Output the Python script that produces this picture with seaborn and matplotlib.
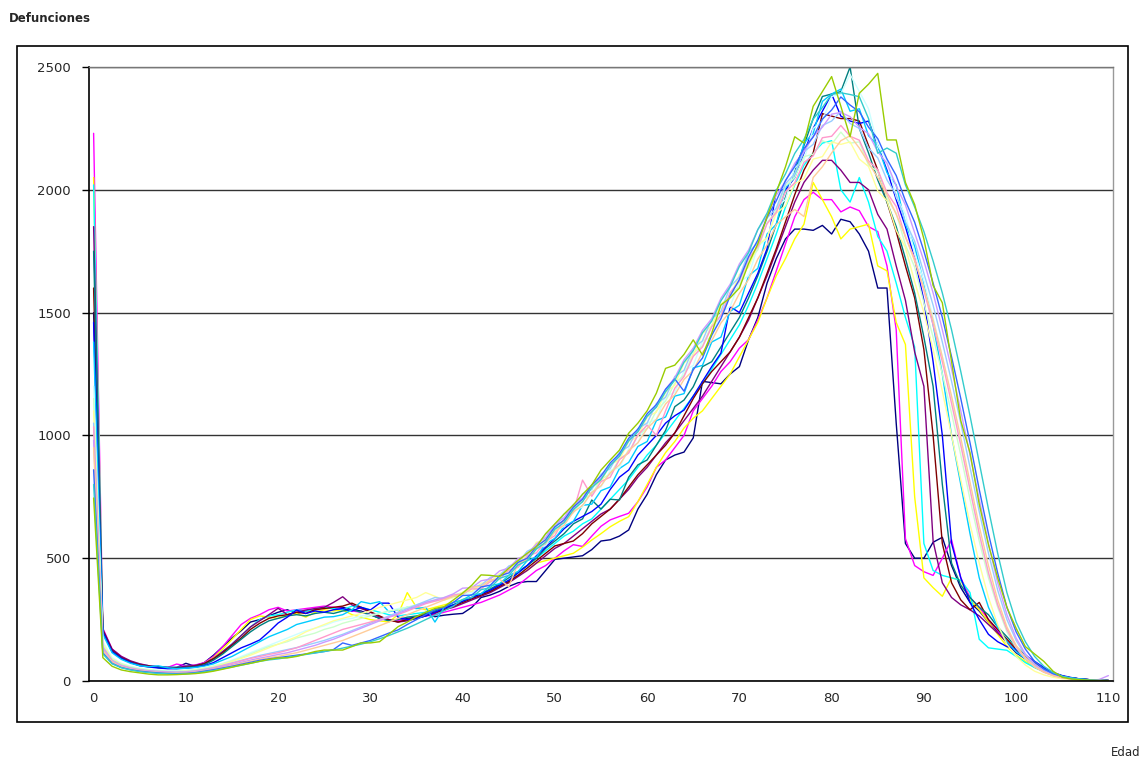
import numpy as np
import pandas as pd
import matplotlib
matplotlib.use("Agg")
import matplotlib.pyplot as plt
import seaborn as sns
from matplotlib.patches import Rectangle

# Ages on the x axis (category axis 0..110)
ages = list(range(111))

# Deaths by age, one list per series
navy = [1500, 210, 120, 95, 78, 66, 60, 55, 52, 55,
        72, 60, 75, 105, 140, 175, 205, 240, 250, 265,
        280, 290, 275, 285, 290, 300, 295, 300, 290, 285,
        270, 255, 250, 245, 255, 260, 270, 262, 268, 272,
        275, 300, 340, 350, 365, 385, 400, 405, 405, 450,
        495, 500, 505, 510, 535, 570, 575, 590, 615, 700,
        760, 840, 900, 920, 932, 990, 1220, 1215, 1210, 1250,
        1280, 1390, 1480, 1620, 1720, 1800, 1840, 1840, 1835, 1855,
        1820, 1880, 1870, 1820, 1750, 1600, 1600, 1050, 560, 500,
        500, 565, 585, 470, 380, 320, 285, 240, 200, 155,
        115, 90, 60, 40, 28, 18, 12, 8, 5, 3, 2]
magenta = [2230, 215, 130, 100, 80, 68, 62, 58, 55, 69,
           62, 65, 75, 100, 140, 185, 230, 255, 270, 290,
           300, 285, 290, 295, 300, 305, 300, 295, 285, 280,
           270, 260, 250, 245, 250, 255, 265, 270, 280, 290,
           300, 310, 320, 335, 350, 370, 390, 420, 450, 470,
           500, 530, 555, 548, 590, 630, 656, 670, 683, 730,
           790, 870, 900, 950, 1000, 1100, 1150, 1200, 1260, 1300,
           1355, 1390, 1470, 1560, 1670, 1780, 1890, 1960, 1990, 1960,
           1960, 1910, 1930, 1915, 1850, 1830, 1690, 1430, 580, 470,
           445, 430, 500, 575, 420, 340, 300, 250, 205, 160,
           120, 95, 70, 48, 30, 20, 12, 8, 5, 3, 2]
yellow = [2050, 200, 125, 95, 78, 66, 60, 55, 52, 52,
          58, 62, 72, 95, 130, 170, 210, 250, 265, 260,
          255, 270, 275, 260, 280, 290, 285, 290, 270, 260,
          250, 245, 240, 270, 360, 300, 290, 300, 310, 320,
          330, 340, 350, 365, 385, 400, 430, 450, 480, 490,
          500, 510, 520, 545, 574, 600, 628, 650, 669, 730,
          800, 870, 930, 975, 1030, 1070, 1100, 1150, 1200, 1250,
          1320, 1390, 1460, 1560, 1650, 1720, 1800, 1860, 2030, 1960,
          1890, 1800, 1840, 1850, 1860, 1690, 1670, 1460, 1370, 750,
          420, 380, 345, 420, 410, 330, 290, 240, 190, 140,
          105, 80, 55, 38, 25, 16, 10, 6, 4, 2, 1]
cyan = [2020, 205, 125, 95, 78, 68, 62, 58, 56, 56,
        60, 62, 70, 90, 120, 150, 185, 220, 250, 265,
        270, 280, 290, 285, 290, 300, 295, 290, 305, 300,
        290, 280, 270, 265, 270, 275, 280, 290, 300, 310,
        325, 340, 355, 370, 390, 410, 440, 470, 500, 530,
        560, 590, 610, 640, 660, 700, 740, 780, 820, 870,
        920, 960, 1010, 1060, 1110, 1160, 1210, 1270, 1330, 1390,
        1450, 1530, 1620, 1720, 1820, 1930, 2020, 2100, 2150, 2190,
        2200, 2000, 1950, 2050, 1950, 1810, 1750, 1620, 1480, 1360,
        560, 450, 430, 420, 410, 360, 170, 135, 130, 125,
        100, 75, 55, 38, 25, 16, 10, 6, 4, 2, 1]
purple = [1850, 210, 130, 100, 82, 70, 62, 58, 56, 55,
          60, 64, 72, 92, 120, 150, 185, 220, 245, 270,
          296, 270, 280, 289, 295, 300, 320, 343, 310, 295,
          280, 260, 250, 240, 245, 255, 265, 275, 290, 300,
          315, 330, 345, 360, 380, 400, 425, 450, 480, 510,
          540, 560, 590, 620, 650, 680, 700, 740, 780, 830,
          870, 920, 970, 1010, 1060, 1110, 1160, 1220, 1280, 1340,
          1400, 1470, 1560, 1650, 1750, 1850, 1950, 2030, 2080, 2120,
          2120, 2080, 2030, 2030, 2000, 1900, 1840, 1690, 1550, 1340,
          1200, 570, 400, 340, 310, 290, 265, 230, 195, 160,
          125, 95, 65, 45, 30, 18, 12, 8, 5, 3, 2]
darkred = [1600, 205, 125, 95, 78, 66, 60, 56, 54, 52,
           56, 60, 70, 90, 115, 145, 175, 210, 235, 255,
           265, 270, 280, 275, 290, 295, 300, 305, 317, 300,
           282, 265, 248, 240, 250, 260, 270, 280, 290, 305,
           320, 335, 350, 365, 385, 405, 430, 460, 490, 520,
           550, 560, 570, 600, 640, 670, 700, 740, 790, 840,
           880, 920, 960, 1010, 1080, 1150, 1210, 1260, 1300, 1340,
           1400, 1480, 1560, 1660, 1760, 1870, 1980, 2080, 2150, 2310,
           2300, 2290, 2290, 2280, 2180, 2080, 1950, 1830, 1690, 1560,
           1350, 1000, 560, 400, 330, 290, 320, 250, 210, 170,
           130, 100, 75, 50, 32, 20, 12, 8, 5, 3, 2]
teal = [1750, 200, 120, 92, 75, 64, 58, 55, 52, 52,
        55, 58, 66, 85, 110, 140, 170, 200, 225, 245,
        255, 265, 270, 265, 275, 280, 275, 285, 290, 280,
        270, 255, 245, 250, 260, 265, 275, 285, 300, 310,
        325, 340, 355, 375, 395, 420, 445, 470, 500, 540,
        570, 600, 640, 660, 737, 700, 740, 737, 830, 880,
        900, 960, 1020, 1117, 1144, 1198, 1280, 1300, 1360, 1420,
        1480, 1560, 1650, 1750, 1860, 1970, 2080, 2180, 2290, 2380,
        2390, 2400, 2500, 2250, 2150, 2040, 1950, 1850, 1720, 1580,
        1400, 1200, 800, 480, 390, 340, 300, 270, 220, 180,
        140, 105, 75, 50, 33, 20, 12, 8, 5, 3, 2]
blue = [1460, 200, 120, 92, 75, 62, 57, 53, 50, 50,
        52, 56, 62, 75, 95, 115, 135, 150, 167, 200,
        236, 260, 289, 275, 285, 280, 290, 295, 285, 300,
        289, 317, 317, 260, 250, 255, 265, 280, 295, 310,
        325, 340, 355, 370, 390, 410, 440, 470, 510, 545,
        580, 620, 650, 670, 690, 720, 780, 830, 859, 920,
        960, 1000, 1050, 1080, 1103, 1160, 1220, 1280, 1335, 1524,
        1500, 1580, 1660, 1760, 2000, 2000, 2050, 2150, 2250, 2320,
        2390, 2300, 2280, 2270, 2280, 2180, 2080, 1960, 1850, 1720,
        1550, 1300, 1000, 560, 420, 320, 250, 190, 160, 140,
        130, 105, 80, 55, 35, 22, 14, 8, 5, 3, 2]
skyblue = [1380, 190, 115, 88, 72, 62, 58, 62, 54, 50,
           52, 55, 60, 70, 85, 100, 120, 140, 160, 180,
           195, 210, 230, 240, 250, 260, 262, 270, 290, 323,
           315, 323, 282, 290, 300, 295, 300, 240, 300, 320,
           330, 352, 355, 388, 396, 430, 445, 490, 505, 560,
           580, 630, 650, 715, 720, 775, 790, 865, 890, 955,
           975, 1060, 1075, 1160, 1170, 1275, 1285, 1380, 1400, 1505,
           1530, 1650, 1680, 1820, 1860, 2010, 2050, 2190, 2230, 2360,
           2390, 2410, 2320, 2330, 2220, 2180, 2070, 2020, 1860, 1770,
           1620, 1450, 1250, 1000, 800, 600, 420, 300, 220, 160,
           120, 90, 65, 45, 30, 18, 12, 8, 5, 3, 2]
lightturq = [1200, 160, 95, 72, 60, 52, 47, 44, 42, 42,
             45, 48, 55, 62, 72, 85, 100, 115, 130, 145,
             160, 175, 190, 205, 215, 225, 240, 250, 255, 265,
             270, 275, 285, 295, 300, 310, 320, 325, 330, 340,
             355, 360, 388, 390, 428, 432, 480, 492, 540, 552,
             612, 630, 695, 708, 772, 790, 858, 868, 945, 970,
             1050, 1065, 1160, 1175, 1262, 1285, 1385, 1400, 1500, 1525,
             1625, 1650, 1770, 1800, 1930, 1960, 2090, 2120, 2250, 2280,
             2380, 2390, 2470, 2400, 2330, 2180, 2120, 1970, 1900, 1740,
             1630, 1480, 1320, 1150, 970, 780, 600, 440, 310, 210,
             140, 95, 60, 38, 22, 14, 8, 5, 3, 2, 1]
lightgreen = [1150, 150, 90, 70, 58, 50, 45, 42, 40, 40,
              42, 45, 52, 60, 70, 82, 95, 110, 125, 140,
              150, 160, 175, 185, 195, 210, 220, 235, 245, 255,
              265, 275, 285, 290, 300, 310, 320, 330, 340, 350,
              360, 382, 385, 410, 420, 458, 470, 512, 535, 582,
              605, 660, 685, 738, 760, 822, 842, 905, 930, 1002,
              1028, 1100, 1140, 1212, 1245, 1335, 1365, 1450, 1490, 1575,
              1605, 1715, 1755, 1865, 1915, 2015, 2050, 2135, 2145, 2200,
              2185, 2235, 2190, 2195, 2100, 2075, 1965, 1905, 1775, 1685,
              1540, 1400, 1250, 1090, 920, 740, 570, 420, 300, 200,
              135, 90, 58, 36, 22, 13, 8, 5, 3, 2, 1]
lightyellow = [1100, 150, 90, 68, 56, 48, 44, 40, 38, 38,
               40, 44, 50, 58, 68, 80, 92, 105, 120, 135,
               150, 165, 180, 200, 215, 230, 245, 255, 265, 275,
               285, 300, 310, 320, 330, 340, 360, 345, 330, 340,
               362, 365, 398, 402, 438, 448, 490, 505, 565, 572,
               632, 650, 712, 730, 792, 810, 882, 900, 975, 995,
               1075, 1095, 1175, 1205, 1295, 1325, 1415, 1445, 1535, 1565,
               1655, 1685, 1775, 1805, 1905, 1935, 2025, 2045, 2125, 2135,
               2195, 2185, 2195, 2125, 2095, 1995, 1955, 1835, 1765, 1625,
               1500, 1350, 1180, 1000, 820, 640, 480, 340, 230, 150,
               100, 65, 40, 25, 15, 9, 6, 4, 3, 2, 1]
paleblue = [1050, 140, 85, 65, 54, 47, 42, 40, 38, 37,
            38, 42, 48, 55, 64, 74, 84, 94, 104, 112,
            120, 128, 136, 145, 155, 165, 178, 190, 205, 220,
            235, 250, 265, 280, 295, 310, 325, 340, 335, 345,
            352, 382, 390, 422, 430, 468, 482, 528, 548, 598,
            622, 680, 700, 762, 780, 842, 865, 932, 955, 1028,
            1050, 1130, 1155, 1240, 1265, 1355, 1385, 1475, 1505, 1605,
            1645, 1745, 1785, 1885, 1925, 2025, 2065, 2155, 2185, 2262,
            2280, 2320, 2270, 2250, 2170, 2130, 2040, 1980, 1870, 1790,
            1660, 1530, 1380, 1220, 1050, 870, 690, 520, 370, 250,
            165, 105, 65, 40, 24, 14, 9, 5, 3, 2, 1]
rose = [1035, 135, 82, 62, 52, 45, 40, 38, 36, 35,
        36, 40, 46, 53, 62, 72, 82, 92, 100, 108,
        115, 125, 135, 150, 165, 180, 195, 210, 220, 230,
        240, 250, 260, 270, 285, 300, 315, 325, 335, 350,
        355, 375, 375, 405, 415, 452, 462, 508, 522, 568,
        592, 660, 690, 818, 752, 812, 830, 902, 928, 1002,
        1042, 1000, 1100, 1192, 1240, 1322, 1360, 1442, 1488, 1582,
        1628, 1722, 1768, 1862, 1908, 1992, 2028, 2112, 2138, 2212,
        2218, 2262, 2218, 2202, 2118, 2082, 1988, 1932, 1808, 1722,
        1590, 1450, 1300, 1130, 960, 780, 600, 440, 310, 210,
        140, 92, 58, 36, 22, 13, 8, 5, 3, 2, 1]
lavender = [980, 130, 80, 60, 50, 44, 40, 37, 35, 34,
            35, 38, 44, 50, 58, 67, 76, 85, 93, 100,
            108, 115, 125, 135, 145, 158, 170, 185, 200, 215,
            230, 245, 260, 275, 290, 305, 320, 330, 340, 355,
            378, 380, 408, 415, 448, 460, 498, 515, 558, 585,
            638, 665, 718, 745, 798, 825, 878, 915, 978, 1015,
            1078, 1115, 1188, 1235, 1308, 1355, 1428, 1475, 1558, 1615,
            1698, 1755, 1838, 1895, 1978, 2035, 2108, 2155, 2218, 2255,
            2308, 2315, 2298, 2255, 2228, 2155, 2108, 2015, 1938, 1825,
            1710, 1580, 1430, 1270, 1100, 920, 740, 560, 400, 270,
            175, 110, 70, 42, 25, 15, 9, 5, 3, 6, 22]
tan = [950, 125, 78, 58, 48, 42, 38, 35, 33, 32,
       33, 36, 42, 48, 55, 63, 72, 80, 88, 95,
       100, 108, 115, 125, 135, 145, 155, 165, 180, 195,
       210, 225, 240, 255, 270, 285, 300, 315, 330, 345,
       352, 382, 385, 412, 415, 384, 478, 495, 538, 560,
       608, 635, 688, 715, 768, 795, 848, 880, 938, 970,
       1028, 1065, 1128, 1165, 1228, 1265, 1338, 1385, 1458, 1505,
       1578, 1635, 1718, 1775, 1858, 1890, 1920, 1891, 2050, 2094,
       2150, 2200, 2220, 2170, 2110, 2050, 1980, 1900, 1810, 1710,
       1600, 1470, 1320, 1160, 990, 810, 630, 470, 330, 220,
       145, 95, 60, 37, 22, 13, 8, 5, 3, 2, 1]
lightblue = [860, 115, 72, 55, 46, 40, 36, 33, 31, 30,
             31, 34, 40, 46, 53, 60, 68, 76, 84, 90,
             95, 100, 105, 110, 115, 120, 128, 155, 145, 155,
             165, 180, 195, 208, 230, 250, 270, 290, 300, 320,
             348, 350, 383, 390, 428, 440, 483, 500, 548, 575,
             628, 655, 708, 740, 798, 835, 888, 925, 988, 1025,
             1088, 1125, 1188, 1230, 1180, 1268, 1315, 1408, 1475, 1568,
             1635, 1728, 1795, 1888, 1955, 2038, 2095, 2168, 2215, 2288,
             2325, 2378, 2345, 2318, 2255, 2208, 2125, 2058, 1955, 1868,
             1750, 1620, 1480, 1320, 1150, 970, 780, 600, 440, 300,
             200, 130, 80, 50, 30, 18, 10, 6, 4, 2, 1]
aqua = [800, 110, 70, 54, 45, 38, 34, 31, 29, 28,
        29, 32, 37, 43, 50, 57, 64, 72, 80, 86,
        90, 96, 102, 108, 114, 120, 126, 134, 142, 150,
        160, 172, 185, 200, 215, 232, 250, 268, 286, 305,
        332, 340, 372, 380, 418, 430, 472, 490, 538, 565,
        618, 645, 698, 730, 788, 820, 878, 915, 978, 1015,
        1078, 1115, 1178, 1225, 1298, 1345, 1418, 1465, 1548, 1605,
        1688, 1745, 1838, 1905, 1998, 2065, 2148, 2205, 2288, 2335,
        2388, 2395, 2388, 2379, 2290, 2149, 2170, 2149, 2020, 1930,
        1830, 1710, 1580, 1430, 1260, 1080, 890, 700, 520, 360,
        240, 160, 100, 60, 35, 20, 12, 7, 4, 2, 1]
lime = [745, 95, 60, 45, 38, 33, 28, 25, 25, 26,
        28, 30, 34, 40, 48, 56, 65, 72, 80, 88,
        94, 94, 100, 110, 120, 126, 126, 126, 140, 155,
        155, 160, 190, 221, 240, 262, 280, 295, 303, 330,
        358, 390, 432, 430, 425, 459, 490, 520, 547, 600,
        640, 680, 717, 760, 798, 859, 900, 940, 1009, 1050,
        1100, 1172, 1273, 1286, 1330, 1389, 1327, 1416, 1531, 1560,
        1600, 1700, 1780, 1890, 1990, 2094, 2216, 2190, 2340, 2400,
        2461, 2340, 2216, 2393, 2430, 2474, 2203, 2203, 2030, 1940,
        1800, 1610, 1540, 1300, 1060, 930, 720, 555, 420, 300,
        215, 140, 110, 80, 40, 15, 8, 5, 3, 2, 2]

series_names = ["s01", "s02", "s03", "s04", "s05", "s06", "s07", "s08", "s09", "s10",
                "s11", "s12", "s13", "s14", "s15", "s16", "s17", "s18", "s19"]
series_values = [navy, magenta, yellow, cyan, purple, darkred, teal, blue, skyblue,
                 lightturq, lightgreen, lightyellow, paleblue, rose, lavender, tan,
                 lightblue, aqua, lime]
colors = ["#000080", "#FF00FF", "#FFFF00", "#00FFFF", "#800080", "#800000", "#008080",
          "#0000FF", "#00CCFF", "#CCFFFF", "#CCFFCC", "#FFFF99", "#99CCFF", "#FF99CC",
          "#CC99FF", "#FFCC99", "#3366FF", "#33CCCC", "#99CC00"]

for name, vals in zip(series_names, series_values):
    assert len(vals) == len(ages), (name, len(vals))

# Long form table for seaborn
wide = pd.DataFrame(dict(zip(series_names, series_values)))
wide["Edad"] = ages
data = wide.melt(id_vars="Edad", var_name="serie", value_name="Defunciones")

sns.set_style("white")
plt.rcParams["font.family"] = ["DejaVu Sans"]

fig = plt.figure(figsize=(11.45, 7.6), dpi=100)
ax = fig.add_axes([89 / 1145, 1 - 681 / 760, (1113 - 89) / 1145, (681 - 67) / 760])

sns.lineplot(data=data, x="Edad", y="Defunciones", hue="serie",
             palette=colors, linewidth=1.0, legend=False, ax=ax)

ax.set_xlim(-0.5, 110.5)
ax.set_ylim(0, 2500)
ax.set_xticks(range(0, 111, 10))
ax.set_yticks(range(0, 2501, 500))
ax.tick_params(axis="x", length=0, labelsize=9.5, pad=8)
ax.tick_params(axis="y", direction="out", length=5, width=1, color="black",
               labelsize=9.5, pad=8, left=True)
ax.yaxis.grid(True, color="#333333", linewidth=1.0)
ax.set_axisbelow(True)
ax.set_xlabel("")
ax.set_ylabel("")

for side in ["left", "bottom"]:
    ax.spines[side].set_color("black")
    ax.spines[side].set_linewidth(1.2)
ax.spines["top"].set_color("#777777")
ax.spines["top"].set_linewidth(1.0)
ax.spines["right"].set_color("#999999")
ax.spines["right"].set_linewidth(1.0)

# Outer frame of the chart
fig.patches.append(Rectangle((17 / 1145, 1 - 722 / 760), (1128 - 17) / 1145, (722 - 46) / 760,
                             transform=fig.transFigure, fill=False, edgecolor="black",
                             linewidth=1.2))

fig.text(9 / 1145, 1 - 18 / 760, "Defunciones", fontsize=8.5, fontweight="bold",
         ha="left", va="center")
fig.text(1140 / 1145, 1 - 752 / 760, "Edad", fontsize=8.5, ha="right", va="center")

fig.savefig("out.png", dpi=100)
